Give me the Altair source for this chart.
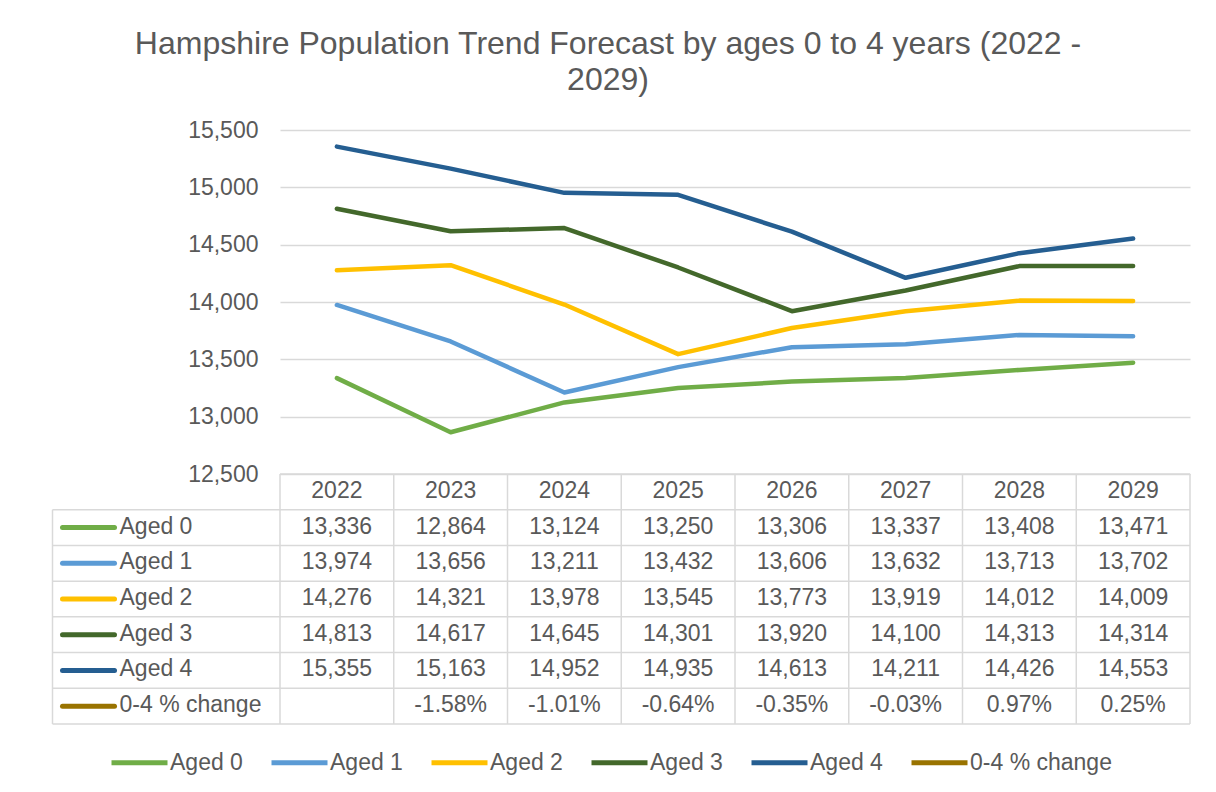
import altair as alt
import pandas as pd

# ---------------- data ----------------
years = [2022, 2023, 2024, 2025, 2026, 2027, 2028, 2029]
series_names = ["Aged 0", "Aged 1", "Aged 2", "Aged 3", "Aged 4", "0-4 % change"]
series_colors = ["#70AD47", "#5B9BD5", "#FFC000", "#43682B", "#255E91", "#997300"]

aged0 = [13336, 12864, 13124, 13250, 13306, 13337, 13408, 13471]
aged1 = [13974, 13656, 13211, 13432, 13606, 13632, 13713, 13702]
aged2 = [14276, 14321, 13978, 13545, 13773, 13919, 14012, 14009]
aged3 = [14813, 14617, 14645, 14301, 13920, 14100, 14313, 14314]
aged4 = [15355, 15163, 14952, 14935, 14613, 14211, 14426, 14553]
pct_change = [None, -1.58, -1.01, -0.64, -0.35, -0.03, 0.97, 0.25]

y_ticks = [12500, 13000, 13500, 14000, 14500, 15000, 15500]

title_lines = ["Hampshire Population Trend Forecast by ages 0 to 4 years (2022 -", "2029)"]

# ---------------- layout / style ----------------
FONT = "Liberation Sans"
TXT = "#595959"
GRID = "#D9D9D9"
W = 910          # plot width
PLOT_H = 344     # line-chart part height
H = 594          # plot + data table height
FS = 23

# ---------------- frames ----------------
value_series = [aged0, aged1, aged2, aged3, aged4]
line_rows = []
for name, vals in zip(series_names[:5], value_series):
    for yr, v in zip(years, vals):
        line_rows.append({"year": yr, "series": name, "value": v})
lines_df = pd.DataFrame(line_rows)

n_rows = len(series_names) + 1
text_rows = []
for yr in years:
    text_rows.append({"year": yr, "row": 0, "label": str(yr)})
for i, vals in enumerate(value_series):
    for yr, v in zip(years, vals):
        text_rows.append({"year": yr, "row": i + 1, "label": f"{v:,}"})
for yr, v in zip(years, pct_change):
    if v is not None:
        text_rows.append({"year": yr, "row": len(series_names), "label": f"{v:.2f}%"})
text_df = pd.DataFrame(text_rows)

left_edge = years[0] - 2.5
right_edge = years[-1] + 0.5
first_col = years[0] - 0.5

label_df = pd.DataFrame({
    "series": series_names,
    "row": list(range(1, n_rows)),
    "left": [left_edge] * len(series_names),
})

h_rules = pd.DataFrame({
    "y": list(range(0, n_rows + 1)),
    "x0": [first_col] + [left_edge] * n_rows,
    "x1": [right_edge] * (n_rows + 1),
})
v_rules = pd.DataFrame({
    "x": [left_edge] + [yr - 0.5 for yr in years] + [right_edge],
    "y0": [1] + [0] * (len(years) + 1),
    "y1": [n_rows] * (len(years) + 2),
})

# ---------------- scales ----------------
x_scale = alt.Scale(domain=[years[0] - 0.5, years[-1] + 0.5], nice=False, zero=False)
t_scale = alt.Scale(domain=[0, n_rows], range=[PLOT_H, H], nice=False, zero=False)
color_scale = alt.Scale(domain=series_names, range=series_colors)

legend = alt.Legend(
    orient="none", legendX=-171, legendY=602, direction="horizontal", title=None,
    symbolType="stroke", symbolStrokeWidth=5, symbolSize=3136,
    labelFontSize=FS, labelColor=TXT, labelFont=FONT, columnPadding=18,
    labelOffset=0, padding=0, labelLimit=400,
)

lines = alt.Chart(lines_df).mark_line(
    strokeWidth=4.5, strokeCap="round", strokeJoin="round"
).encode(
    x=alt.X("year:Q", scale=x_scale, axis=None),
    y=alt.Y("value:Q",
            scale=alt.Scale(domain=[y_ticks[0], y_ticks[-1]], range=[PLOT_H, 0], nice=False, zero=False),
            axis=alt.Axis(values=y_ticks, format=",.0f", title=None, domain=False, ticks=False,
                          labelPadding=22, labelFontSize=FS, labelColor=TXT, labelFont=FONT,
                          gridColor=GRID, gridWidth=1.5, grid=True)),
    color=alt.Color("series:N", scale=color_scale, legend=legend),
    order=alt.Order("year:Q"),
)

hr = alt.Chart(h_rules).mark_rule(color=GRID, strokeWidth=1.5).encode(
    x=alt.X("x0:Q", scale=x_scale, axis=None),
    x2="x1:Q",
    y=alt.Y("y:Q", scale=t_scale, axis=None),
)
vr = alt.Chart(v_rules).mark_rule(color=GRID, strokeWidth=1.5).encode(
    x=alt.X("x:Q", scale=x_scale, axis=None),
    y=alt.Y("y0:Q", scale=t_scale, axis=None),
    y2="y1:Q",
)
cell_text = alt.Chart(text_df).transform_calculate(ymid="datum.row + 0.5").mark_text(
    fontSize=FS, color=TXT, font=FONT, align="center", baseline="middle", dy=-1
).encode(
    x=alt.X("year:Q", scale=x_scale, axis=None),
    y=alt.Y("ymid:Q", scale=t_scale, axis=None),
    text="label:N",
)
row_swatch = alt.Chart(label_df).transform_calculate(ymid="datum.row + 0.5").mark_rule(
    strokeWidth=5, strokeCap="round", xOffset=10, x2Offset=62
).encode(
    x=alt.X("left:Q", scale=x_scale, axis=None),
    x2="left:Q",
    y=alt.Y("ymid:Q", scale=t_scale, axis=None),
    color=alt.Color("series:N", scale=color_scale, legend=legend),
)
row_label = alt.Chart(label_df).transform_calculate(ymid="datum.row + 0.5").mark_text(
    fontSize=FS, color=TXT, font=FONT, align="left", baseline="middle", dx=67, dy=-1
).encode(
    x=alt.X("left:Q", scale=x_scale, axis=None),
    y=alt.Y("ymid:Q", scale=t_scale, axis=None),
    text="series:N",
)

table = alt.layer(hr, vr, cell_text, row_swatch, row_label)

chart = alt.layer(lines, table).resolve_scale(y="independent").properties(
    width=W, height=H,
    autosize=alt.AutoSizeParams(type="none"),
    padding={"left": 280, "top": 130, "right": 26, "bottom": 68},
    title=alt.TitleParams(
        text=title_lines, fontSize=32, font=FONT, fontWeight="normal", color=TXT,
        anchor="middle", frame="group", dx=-127, offset=22, lineHeight=36,
    ),
).configure(font=FONT, background="white").configure_view(stroke=None)

chart.save("out.html", embed_options={"renderer": "svg", "actions": False})
